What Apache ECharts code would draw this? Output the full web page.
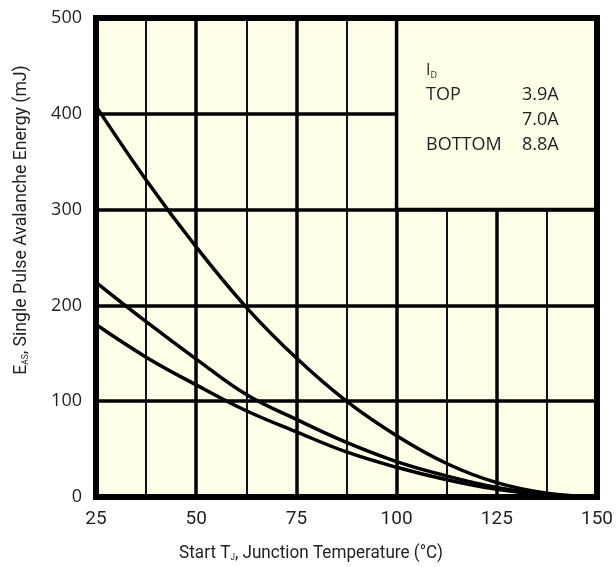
<!DOCTYPE html>
<html><head><meta charset="utf-8">
<script src="https://cdn.jsdelivr.net/npm/echarts@6/dist/echarts.min.js"></script>
<style>html,body{margin:0;padding:0;background:#fff}#c{width:616px;height:567px}</style>
</head><body><div id="c"></div>
<script>
// Data
const temps = [25, 37.5, 50, 62.5, 75, 87.5, 100, 112.5, 125, 137.5, 150];
const eTop3_9A = [408, 331, 261, 198, 145, 100, 64, 35, 15, 4, 0];
const eMid7_0A = [224, 183, 144, 107, 81, 57, 37, 22, 10, 3, 0];
const eBot8_8A = [180, 146, 117, 90, 68, 47, 31, 18, 8, 2, 0];
const xTicks = [25, 50, 75, 100, 125, 150];
const yTicks = [0, 100, 200, 300, 400, 500];
const legendRows = [['TOP', '3.9A'], ['', '7.0A'], ['BOTTOM', '8.8A']];

const G = {left: 96, top: 18, right: 19, bottom: 70};
const W = 616, H = 567;
const cream = '#fffde8';
const narrow = 'Roboto, sans-serif';
const sans = '"Open Sans", sans-serif';

function pairs(ys) { return temps.map((t, i) => [t, ys[i]]); }
const lineStyle = {color: '#000', width: 3.5};

const chart = echarts.init(document.getElementById('c'));
const legendGraphics = [
  {type: 'text', left: 426, top: 62, z: 50, style: {text: '{i|I}{d|D}', rich: {
    i: {fontFamily: sans, fontSize: 16, fill: '#231f20'},
    d: {fontFamily: sans, fontSize: 9, fill: '#231f20', verticalAlign: 'bottom', padding: [10, 0, 0, 0]}
  }}}
];
legendRows.forEach((r, k) => {
  const y = 86 + k * 25;
  if (r[0]) legendGraphics.push({type: 'text', left: 426, top: y, z: 50, style: {text: r[0], fontFamily: sans, fontSize: 18, fill: '#231f20'}});
  legendGraphics.push({type: 'text', left: 522, top: y, z: 50, style: {text: r[1], fontFamily: sans, fontSize: 18, fill: '#231f20'}});
});

chart.setOption({
  animation: false,
  backgroundColor: '#fff',
  grid: {left: G.left, top: G.top, right: G.right, bottom: G.bottom, show: true, backgroundColor: cream, borderWidth: 0},
  xAxis: {
    type: 'value', min: xTicks[0], max: xTicks[xTicks.length - 1], interval: 25,
    axisLine: {show: false}, axisTick: {show: false},
    axisLabel: {fontFamily: narrow, fontSize: 19, color: '#231f20', margin: 13},
    splitLine: {show: true, lineStyle: {color: '#000', width: 3.5}},
    minorTick: {show: false, splitNumber: 2},
    minorSplitLine: {show: true, lineStyle: {color: '#111', width: 2}}
  },
  yAxis: {
    type: 'value', min: yTicks[0], max: yTicks[yTicks.length - 1], interval: 100,
    axisLine: {show: false}, axisTick: {show: false},
    axisLabel: {fontFamily: sans, fontSize: 18, color: '#231f20', margin: 14, padding: [6, 0, 0, 0]},
    splitLine: {show: true, lineStyle: {color: '#000', width: 3.5}}
  },
  series: [
    {type: 'line', name: '3.9A', data: pairs(eTop3_9A), smooth: 0.4, symbol: 'none', lineStyle: lineStyle, z: 5,
     markArea: {silent: true, itemStyle: {color: cream, borderColor: '#000', borderWidth: 3.5},
       data: [[{xAxis: 100, yAxis: 300}, {xAxis: 150, yAxis: 500}]]}},
    {type: 'line', name: '7.0A', data: pairs(eMid7_0A), smooth: 0.4, symbol: 'none', lineStyle: lineStyle, z: 5},
    {type: 'line', name: '8.8A', data: pairs(eBot8_8A), smooth: 0.4, symbol: 'none', lineStyle: lineStyle, z: 5}
  ],
  graphic: [
    {type: 'rect', z: 40, shape: {x: G.left, y: G.top, width: W - G.left - G.right, height: H - G.top - G.bottom},
     style: {fill: null, stroke: '#000', lineWidth: 6}},
    {type: 'text', z: 50, x: 311, y: 553, scaleX: 0.9, style: {text: 'Start T{s|J}, Junction Temperature (°C)', fontFamily: narrow, fontSize: 19, fill: '#231f20',
      align: 'center', verticalAlign: 'middle',
      rich: {s: {fontFamily: narrow, fontSize: 9, fill: '#231f20', padding: [10, 0, 0, 0]}}}},
    {type: 'text', z: 50, x: 21, y: 220, rotation: Math.PI / 2, scaleX: 0.93, style: {text: 'E{s|AS}, Single Pulse Avalanche Energy (mJ)', fontFamily: narrow, fontSize: 19, fill: '#231f20',
      align: 'center', verticalAlign: 'middle',
      rich: {s: {fontFamily: narrow, fontSize: 9, fill: '#231f20', padding: [10, 0, 0, 0]}}}}
  ].concat(legendGraphics)
});
</script></body></html>
